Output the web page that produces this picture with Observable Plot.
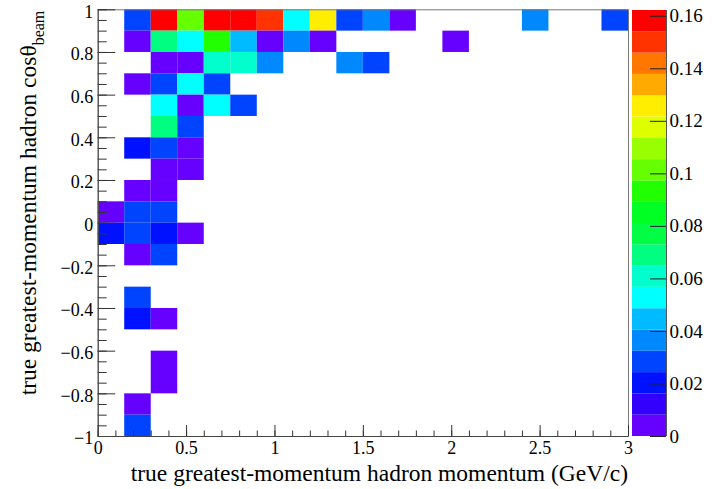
<!DOCTYPE html>
<html><head><meta charset="utf-8">
<script src="https://cdn.jsdelivr.net/npm/d3@7"></script>
<script src="https://cdn.jsdelivr.net/npm/@observablehq/plot@0.6"></script>
<style>
body{margin:0;background:#fff;}
#c{position:relative;width:725px;height:489px;overflow:hidden;}
#c svg{position:absolute;left:0;top:0;}
#c svg text{font-family:'Liberation Serif','Times New Roman',serif;}
</style></head><body><div id="c"></div>
<script>
// ---- data (bin low edges and bin contents) ----
const momentumLow = [
  0.15,0.30,0.45,0.60,0.75,0.90,1.05,1.20,1.35,1.50,1.65,2.40,2.85,
  0.15,0.30,0.45,0.60,0.75,0.90,1.05,1.20,1.95,
  0.30,0.45,0.60,0.75,0.90,1.35,1.50,
  0.15,0.30,0.45,0.60,
  0.30,0.45,0.60,0.75,
  0.30,0.45,
  0.15,0.30,0.45,
  0.30,0.45,
  0.15,0.30,
  0.00,0.15,0.30,
  0.00,0.15,0.30,0.45,
  0.15,0.30,
  0.15,
  0.15,0.30,
  0.30,
  0.30,
  0.15,
  0.15
];
const cosLow = [
  0.9,0.9,0.9,0.9,0.9,0.9,0.9,0.9,0.9,0.9,0.9,0.9,0.9,
  0.8,0.8,0.8,0.8,0.8,0.8,0.8,0.8,0.8,
  0.7,0.7,0.7,0.7,0.7,0.7,0.7,
  0.6,0.6,0.6,0.6,
  0.5,0.5,0.5,0.5,
  0.4,0.4,
  0.3,0.3,0.3,
  0.2,0.2,
  0.1,0.1,
  0.0,0.0,0.0,
  -0.1,-0.1,-0.1,-0.1,
  -0.2,-0.2,
  -0.4,
  -0.5,-0.5,
  -0.7,
  -0.8,
  -0.9,
  -1.0
];
const content = [
  0.028,0.158,0.101,0.162,0.160,0.150,0.053,0.126,0.028,0.037,0.004,0.037,0.028,
  0.004,0.069,0.053,0.093,0.045,0.004,0.037,0.004,0.004,
  0.004,0.004,0.061,0.061,0.037,0.037,0.028,
  0.004,0.028,0.053,0.028,
  0.053,0.004,0.053,0.028,
  0.070,0.028,
  0.020,0.028,0.004,
  0.004,0.004,
  0.004,0.004,
  0.004,0.028,0.028,
  0.020,0.028,0.020,0.004,
  0.004,0.028,
  0.028,
  0.020,0.004,
  0.004,
  0.004,
  0.004,
  0.028
];
const momentumBinWidth = 0.15;
const cosBinWidth = 0.1;
const zMax = 0.1622;
const xMajorTicks = [0, 0.5, 1, 1.5, 2, 2.5, 3];
const yMajorTicks = [-1, -0.8, -0.6, -0.4, -0.2, 0, 0.2, 0.4, 0.6, 0.8, 1];
const zTicks = [0, 0.02, 0.04, 0.06, 0.08, 0.1, 0.12, 0.14, 0.16];
const palette = ["#6600ff","#3300ff","#0011ff","#0044ff","#0088ff","#00bbff","#00ffff","#00ffcc","#00ff80","#00ff44",
                 "#00ff22","#22ff00","#66ff00","#99ff00","#ddff00","#ffee00","#ffaa00","#ff7700","#ff3300","#ff0000"];
const xTitle = "true greatest-momentum hadron momentum (GeV/c)";
const yTitleMain = "true greatest-momentum hadron cos\u03b8";
const yTitleSub = "beam";

// ---- build ----
const cells = content.map((z, i) => ({x: momentumLow[i], y: cosLow[i], z}));
const nBands = palette.length;
const thresholds = d3.range(1, nBands).map(i => i * zMax / nBands);
const bands = d3.range(nBands).map(i => ({lo: i * zMax / nBands, hi: (i + 1) * zMax / nBands, mid: (i + 0.5) * zMax / nBands}));
const xMinorTicks = d3.range(0, 31).map(i => i / 10);
const yMinorTicks = d3.range(0, 41).map(i => -1 + i / 20);
const fmt = d => (d < 0 ? "\u2212" : "") + String(Math.abs(d));

const W = 725, H = 489;
const fL = 97.7, fR = 628, fT = 9.3, fB = 436;
const pw = fR - fL, ph = fB - fT;
const colorScale = {type: "threshold", domain: thresholds, range: palette};
const font = "'Liberation Serif', 'Times New Roman', serif";

const main = Plot.plot({
  width: W, height: H,
  marginLeft: fL, marginRight: W - fR, marginTop: fT, marginBottom: H - fB,
  style: {fontFamily: font, fontSize: "18px", background: "white", color: "#000"},
  x: {domain: [0, 3], axis: null},
  y: {domain: [-1, 1], axis: null},
  color: colorScale,
  marks: [
    Plot.rect(cells, {x1: "x", x2: d => d.x + momentumBinWidth, y1: "y", y2: d => d.y + cosBinWidth, fill: "z"}),
    Plot.frame({stroke: "#777"}),
    Plot.tickY(yMinorTicks, {y: d => d, insetRight: pw - 9, stroke: "#333"}),
    Plot.tickY(yMajorTicks, {y: d => d, insetRight: pw - 17.5, stroke: "#333"}),
    Plot.tickX(xMinorTicks, {x: d => d, insetTop: ph - 5.5, stroke: "#333"}),
    Plot.tickX(xMajorTicks, {x: d => d, insetTop: ph - 11, stroke: "#333"}),
    Plot.ruleX([0], {stroke: "#444"}),
    Plot.ruleY([-1], {stroke: "#444"}),
    Plot.axisY(yMajorTicks, {anchor: "left", tickSize: 0, tickPadding: 5, dy: 2, tickFormat: fmt, label: null, fontSize: 18, fontFamily: font}),
    Plot.axisX(xMajorTicks, {anchor: "bottom", tickSize: 0, tickPadding: 5, tickFormat: fmt, label: null, fontSize: 18, fontFamily: font})
  ]
});

const svg = d3.select(main);
svg.append("text")
  .attr("x", fR).attr("y", 481).attr("text-anchor", "end")
  .attr("font-size", 23.5).attr("fill", "#000")
  .text(xTitle);
const yt = svg.append("text")
  .attr("transform", "translate(36,203) rotate(-90)")
  .attr("text-anchor", "middle").attr("font-size", 23.5).attr("fill", "#000");
yt.append("tspan").text(yTitleMain);
yt.append("tspan").attr("font-size", 16).attr("dy", 8).text(yTitleSub);

const cb = Plot.plot({
  width: W, height: H,
  marginLeft: 632, marginRight: W - 666, marginTop: 10, marginBottom: H - fB,
  style: {fontFamily: font, fontSize: "19px", background: "transparent", color: "#000"},
  x: {domain: [0, 1], axis: null},
  y: {domain: [0, zMax], axis: null},
  color: colorScale,
  marks: [
    Plot.rect(bands, {y1: "lo", y2: "hi", fill: "mid"}),
    Plot.tickY(zTicks, {y: d => d, insetLeft: 34 - 16, stroke: "#222"}),
    Plot.ruleX([1], {stroke: "#555"}),
    Plot.axisY(zTicks, {anchor: "right", tickSize: 0, tickPadding: 3, tickFormat: d => String(d), label: null, fontSize: 19, fontFamily: font})
  ]
});

const c = document.getElementById("c");
c.appendChild(main);
c.appendChild(cb);
</script>
</body></html>
